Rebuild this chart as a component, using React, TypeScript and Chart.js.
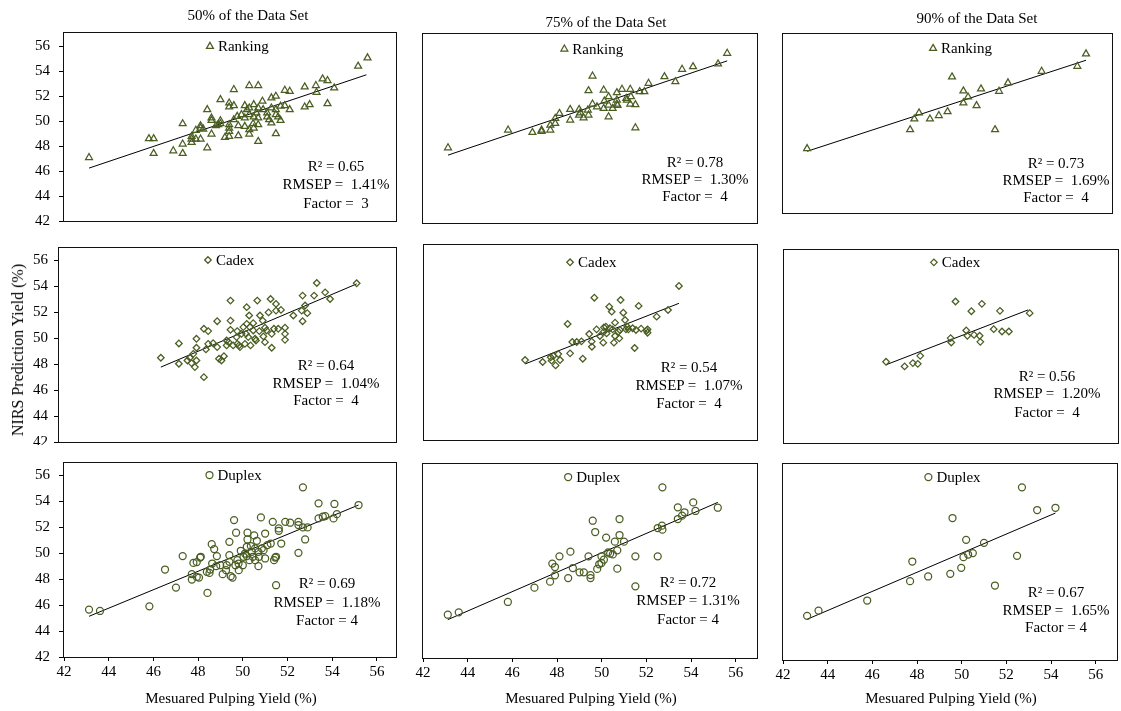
import React, { useEffect, useRef } from "react";
import { Chart, registerables } from "chart.js";
Chart.register(...registerables);

type Pt = [number, number];

const FONT = '"Liberation Serif", "Times New Roman", serif';
const OLIVE = "#4A5E22";

const X_TICKS = [42, 44, 46, 48, 50, 52, 54, 56];
const Y_TICKS = [42, 44, 46, 48, 50, 52, 54, 56];
const COLUMN_TITLES = ["50% of the Data Set", "75% of the Data Set", "90% of the Data Set"];
const METHODS = ["Ranking", "Cadex", "Duplex"];
const X_TITLE = "Mesuared Pulping Yield (%)";
const Y_TITLE = "NIRS Prediction Yield (%)";

const RANKING_50: Pt[] = [
  [43.12, 47.09], [45.8, 48.6], [46.01, 48.6], [46.01, 47.42], [46.89, 47.63], [47.31, 49.8], [47.31, 48.17], [47.31, 47.42],
  [47.71, 48.78], [47.71, 48.57], [47.71, 48.3], [47.9, 48.57], [47.9, 49.27], [48.11, 48.57], [48.11, 49.64], [48.11, 49.45],
  [48.41, 50.93], [48.41, 47.87], [48.6, 50.26], [48.6, 50.07], [48.6, 48.97], [48.8, 49.64], [49.0, 51.73], [49.0, 50.04],
  [49.0, 49.8], [49.2, 48.7], [49.39, 51.46], [49.39, 51.14], [49.39, 49.72], [49.39, 49.45], [49.39, 49.18], [49.39, 48.78],
  [49.6, 52.54], [49.6, 51.25], [49.6, 50.12], [49.8, 49.64], [49.8, 48.84], [50.09, 51.25], [50.09, 50.26], [50.09, 49.59],
  [50.29, 52.86], [50.29, 51.06], [50.29, 50.53], [50.29, 49.32], [50.29, 48.97], [50.49, 51.33], [50.49, 50.34], [50.49, 49.45],
  [50.69, 52.86], [50.69, 51.06], [50.69, 50.26], [50.69, 49.72], [50.69, 48.38], [50.88, 51.6], [51.09, 50.66], [51.09, 50.34],
  [51.28, 51.87], [51.28, 51.06], [51.28, 49.86], [51.48, 52.0], [51.48, 50.93], [51.48, 50.53], [51.48, 49.0], [51.69, 51.2],
  [51.69, 50.07], [51.88, 52.48], [51.88, 51.25], [52.1, 52.4], [52.1, 50.93], [52.77, 52.75], [52.77, 51.14], [52.99, 51.33],
  [53.27, 52.86], [53.3, 52.32], [53.57, 53.39], [53.79, 53.26], [53.79, 51.41], [54.09, 52.67], [55.16, 54.41], [55.58, 55.08],
  [49.94, 50.53], [50.19, 50.93], [50.91, 50.93], [51.18, 50.12], [51.58, 50.34], [50.46, 49.8], [48.9, 49.72], [48.23, 49.37],
  [49.75, 50.39], [50.61, 50.66],
];
const RANKING_75: Pt[] = [
  [43.12, 48.02], [45.81, 49.44], [46.9, 49.25], [47.31, 49.44], [47.31, 49.33], [47.7, 49.44], [47.7, 49.83], [47.92, 49.97],
  [47.92, 50.37], [48.11, 50.77], [48.59, 51.09], [48.59, 50.24], [48.99, 51.09], [48.99, 50.64], [49.19, 50.42], [49.38, 51.04],
  [49.41, 50.64], [49.41, 52.59], [49.59, 53.76], [49.59, 51.52], [50.09, 52.64], [50.09, 51.17], [50.12, 51.76], [50.31, 52.11],
  [50.31, 51.44], [50.31, 50.5], [50.68, 52.43], [50.68, 51.84], [50.68, 51.52], [50.71, 51.41], [50.91, 52.7], [51.1, 51.97],
  [51.28, 52.7], [51.31, 52.11], [51.28, 51.52], [51.51, 51.47], [51.51, 49.62], [51.7, 52.51], [51.91, 52.51], [52.1, 53.18],
  [52.81, 53.71], [53.3, 53.31], [53.6, 54.3], [54.09, 54.51], [55.21, 54.73], [55.62, 55.58], [49.79, 51.3], [50.49, 51.17],
  [51.13, 51.84], [49.04, 50.82],
];
const RANKING_90: Pt[] = [
  [43.08, 47.44], [47.7, 49.04], [47.89, 49.94], [48.1, 50.45], [48.59, 49.94], [48.99, 50.23], [49.38, 50.56], [49.58, 53.49],
  [50.09, 52.31], [50.09, 51.3], [50.3, 51.8], [50.68, 51.07], [50.88, 52.48], [51.51, 49.04], [51.69, 52.28], [52.09, 52.99],
  [53.6, 53.97], [55.2, 54.39], [55.59, 55.44],
];
const CADEX_50: Pt[] = [
  [46.52, 48.48], [47.32, 49.58], [47.32, 48.02], [47.7, 48.27], [47.81, 48.48], [47.88, 48.07], [47.96, 48.78], [48.03, 47.76],
  [48.1, 48.27], [48.1, 49.94], [48.1, 49.25], [48.43, 50.71], [48.43, 46.99], [48.52, 49.12], [48.62, 50.53], [48.62, 49.55],
  [48.84, 49.6], [49.02, 51.29], [49.02, 49.3], [49.1, 48.4], [49.21, 48.27], [49.32, 48.6], [49.44, 49.81], [49.44, 49.43],
  [49.53, 49.68], [49.61, 51.34], [49.61, 50.63], [49.61, 52.88], [49.73, 49.43], [49.91, 50.53], [49.99, 49.43], [50.03, 49.3],
  [50.18, 50.84], [50.3, 50.32], [50.33, 52.37], [50.33, 51.09], [50.4, 50.07], [50.44, 51.73], [50.5, 49.43], [50.62, 50.58],
  [50.7, 49.94], [50.74, 49.81], [50.8, 52.88], [50.92, 51.73], [51.04, 51.34], [51.07, 50.12], [51.14, 50.79], [51.21, 50.58],
  [51.3, 51.97], [51.39, 53.0], [51.44, 49.25], [51.44, 50.32], [51.54, 50.71], [51.63, 52.62], [51.63, 52.11], [51.73, 50.71],
  [51.85, 52.16], [52.03, 50.79], [52.03, 50.32], [52.03, 49.86], [52.4, 51.73], [52.77, 52.11], [52.81, 53.26], [52.81, 51.29],
  [52.92, 52.5], [53.02, 51.91], [53.32, 53.26], [53.44, 54.23], [53.81, 53.51], [54.03, 53.0], [55.21, 54.21],
  [49.88, 50.07], [50.1, 50.32], [50.25, 49.55], [50.47, 50.84], [50.62, 51.14], [50.89, 50.53], [51.14, 49.68], [49.91, 49.55],
];
const CADEX_75: Pt[] = [
  [46.54, 48.12], [47.33, 47.97], [47.69, 48.33], [47.73, 48.07], [47.81, 48.43], [47.91, 47.71], [48.03, 48.58], [48.11, 48.12],
  [48.45, 50.88], [48.56, 48.63], [48.66, 49.5], [48.86, 49.5], [49.07, 49.55], [49.13, 48.22], [49.42, 50.11], [49.53, 49.53],
  [49.54, 49.14], [49.65, 52.89], [49.75, 50.47], [50.05, 49.45], [50.08, 50.62], [50.17, 50.67], [50.2, 50.16], [50.32, 52.2],
  [50.43, 51.82], [50.47, 50.47], [50.53, 49.45], [50.58, 50.98], [50.73, 50.29], [50.77, 49.78], [50.83, 52.71], [50.95, 51.74],
  [51.03, 51.18], [51.07, 50.47], [51.13, 50.67], [51.18, 50.47], [51.37, 50.55], [51.46, 49.04], [51.52, 50.42], [51.64, 52.26],
  [51.75, 50.52], [52.0, 50.37], [52.04, 50.47], [52.04, 50.21], [52.45, 51.44], [52.96, 51.95], [53.45, 53.79],
  [50.08, 50.29], [50.35, 50.55], [50.58, 49.96], [50.8, 50.42], [49.9, 49.96],
];
const CADEX_90: Pt[] = [
  [46.57, 48.28], [47.4, 47.92], [47.77, 48.18], [47.99, 48.12], [48.1, 48.74], [49.46, 50.11], [49.49, 49.77], [49.68, 52.94],
  [50.16, 50.7], [50.21, 50.29], [50.39, 52.19], [50.51, 50.36], [50.76, 50.29], [50.79, 49.82], [50.86, 52.76], [51.39, 50.8],
  [51.67, 52.22], [51.76, 50.62], [52.07, 50.62], [53.0, 52.04],
];
const DUPLEX_50: Pt[] = [
  [43.12, 45.65], [43.61, 45.54], [45.82, 45.9], [46.52, 48.73], [47.01, 47.34], [47.31, 49.76], [47.72, 48.37], [47.72, 47.96],
  [47.79, 49.24], [47.94, 48.16], [47.94, 49.3], [48.04, 48.11], [48.09, 49.65], [48.12, 49.71], [48.42, 46.93], [48.51, 48.47],
  [48.54, 48.73], [48.61, 50.68], [48.63, 49.19], [48.72, 50.3], [48.81, 48.99], [48.84, 49.76], [48.99, 49.06], [49.1, 48.37],
  [49.25, 48.68], [49.4, 50.86], [49.4, 49.83], [49.4, 49.32], [49.46, 48.22], [49.54, 48.11], [49.61, 52.53], [49.67, 49.06],
  [49.7, 51.56], [49.76, 49.45], [49.82, 48.68], [49.91, 50.17], [50.0, 49.06], [50.1, 49.96], [50.18, 49.76], [50.21, 51.56],
  [50.21, 51.04], [50.3, 49.45], [50.36, 50.53], [50.4, 50.09], [50.51, 51.35], [50.55, 50.35], [50.63, 50.94], [50.7, 50.09],
  [50.7, 48.99], [50.72, 49.71], [50.81, 52.74], [50.85, 50.35], [51.0, 51.5], [51.0, 49.58], [51.1, 50.61], [51.25, 50.73],
  [51.34, 52.4], [51.4, 49.45], [51.45, 49.65], [51.49, 49.71], [51.49, 47.52], [51.61, 51.89], [51.61, 51.71], [51.72, 50.73],
  [51.9, 52.4], [52.12, 52.33], [52.49, 50.01], [52.49, 52.4], [52.49, 52.15], [52.69, 55.05], [52.69, 51.97], [52.79, 51.04],
  [52.9, 51.97], [53.39, 53.82], [53.39, 52.66], [53.58, 52.79], [53.69, 52.84], [54.06, 52.66], [54.1, 53.77], [54.21, 52.99],
  [55.18, 53.69], [49.81, 49.19], [50.03, 49.71], [50.45, 49.71], [50.93, 50.22], [49.28, 49.06], [50.18, 50.48], [50.55, 49.45],
  [48.39, 48.55],
];
const DUPLEX_75: Pt[] = [
  [43.11, 45.33], [43.6, 45.51], [45.8, 46.31], [46.99, 47.41], [47.69, 47.87], [47.79, 49.26], [47.91, 49.0], [47.91, 48.36],
  [48.11, 49.82], [48.5, 48.15], [48.6, 50.18], [48.71, 48.92], [49.01, 48.59], [49.2, 48.59], [49.41, 49.82], [49.5, 48.38],
  [49.5, 48.15], [49.6, 52.56], [49.71, 51.69], [49.8, 48.85], [49.89, 49.21], [49.99, 49.31], [49.99, 49.82], [50.1, 49.56],
  [50.2, 51.26], [50.29, 50.13], [50.38, 50.03], [50.5, 49.97], [50.59, 50.95], [50.7, 50.28], [50.7, 48.87], [50.8, 52.69],
  [50.8, 51.46], [51.0, 50.95], [51.51, 49.82], [51.51, 47.51], [52.51, 49.82], [52.51, 52.0], [52.7, 52.18], [52.72, 51.87],
  [52.72, 55.13], [53.41, 53.59], [53.41, 52.69], [53.6, 52.95], [53.71, 53.21], [54.1, 53.97], [54.2, 53.31], [55.2, 53.56],
];
const DUPLEX_90: Pt[] = [
  [43.08, 45.36], [43.59, 45.76], [45.77, 46.53], [47.69, 48.0], [47.79, 49.5], [48.5, 48.36], [49.49, 48.56], [49.59, 52.81],
  [49.98, 49.02], [50.08, 49.83], [50.2, 51.15], [50.29, 50.03], [50.5, 50.14], [51.0, 50.92], [51.49, 47.67], [52.48, 49.93],
  [52.7, 55.15], [53.38, 53.42], [54.2, 53.59],
];

const FIT_RANKING_50: Pt[] = [[43.12, 46.24], [55.53, 53.72]];
const FIT_RANKING_75: Pt[] = [[43.12, 47.43], [55.62, 54.97]];
const FIT_RANKING_90: Pt[] = [[43.08, 47.21], [55.59, 54.9]];
const FIT_CADEX_50: Pt[] = [[46.52, 47.76], [55.21, 54.16]];
const FIT_CADEX_75: Pt[] = [[46.54, 47.82], [53.45, 52.46]];
const FIT_CADEX_90: Pt[] = [[46.57, 48.05], [52.93, 52.29]];
const FIT_DUPLEX_50: Pt[] = [[43.12, 45.13], [55.18, 53.69]];
const FIT_DUPLEX_75: Pt[] = [[43.11, 44.95], [55.2, 53.97]];
const FIT_DUPLEX_90: Pt[] = [[43.08, 45.1], [54.2, 53.19]];

const STATS_RANKING_50 = ["R\u00b2 = 0.65", "RMSEP =  1.41%", "Factor =  3"];
const STATS_RANKING_75 = ["R\u00b2 = 0.78", "RMSEP =  1.30%", "Factor =  4"];
const STATS_RANKING_90 = ["R\u00b2 = 0.73", "RMSEP =  1.69%", "Factor =  4"];
const STATS_CADEX_50 = ["R\u00b2 = 0.64", "RMSEP =  1.04%", "Factor =  4"];
const STATS_CADEX_75 = ["R\u00b2 = 0.54", "RMSEP =  1.07%", "Factor =  4"];
const STATS_CADEX_90 = ["R\u00b2 = 0.56", "RMSEP =  1.20%", "Factor =  4"];
const STATS_DUPLEX_50 = ["R\u00b2 = 0.69", "RMSEP =  1.18%", "Factor = 4"];
const STATS_DUPLEX_75 = ["R\u00b2 = 0.72", "RMSEP = 1.31%", "Factor = 4"];
const STATS_DUPLEX_90 = ["R\u00b2 = 0.67", "RMSEP =  1.65%", "Factor = 4"];

type PanelCfg = {
  data: Pt[]; fit: Pt[]; stats: string[]; method: number; style: string; radius: number;
  box: [number, number, number, number]; xMax: number; yMax: number;
  showX: boolean; showY: boolean; yPad: number; legendAt: Pt; statX: number; statY: number[]; clip?: number;
};

const PANELS: PanelCfg[] = [
  { data: RANKING_50, fit: FIT_RANKING_50, stats: STATS_RANKING_50, method: 0, style: "triangle", radius: 4, box: [64, 32, 397, 221], xMax: 56.9, yMax: 57.15, showX: false, showY: true, yPad: 9, legendAt: [48.53, 56.0], statX: 336, statY: [166, 184, 203] },
  { data: RANKING_75, fit: FIT_RANKING_75, stats: STATS_RANKING_75, method: 0, style: "triangle", radius: 4, box: [423, 33, 758, 223], xMax: 57, yMax: 57.2, showX: false, showY: false, yPad: 9, legendAt: [48.33, 55.92], statX: 695, statY: [162, 179, 196] },
  { data: RANKING_90, fit: FIT_RANKING_90, stats: STATS_RANKING_90, method: 0, style: "triangle", radius: 4, box: [783, 33, 1113, 213], xMax: 56.8, yMax: 57.2, showX: false, showY: false, yPad: 9, legendAt: [48.73, 55.9], statX: 1056, statY: [163, 180, 197] },
  { data: CADEX_50, fit: FIT_CADEX_50, stats: STATS_CADEX_50, method: 1, style: "rectRot", radius: 3.3, box: [59, 247, 397, 442], xMax: 57, yMax: 57, showX: false, showY: true, yPad: 6, legendAt: [48.61, 56.0], statX: 326, statY: [365, 383, 400], clip: 3 },
  { data: CADEX_75, fit: FIT_CADEX_75, stats: STATS_CADEX_75, method: 1, style: "rectRot", radius: 3.3, box: [424, 244, 758, 440], xMax: 57, yMax: 57, showX: false, showY: false, yPad: 9, legendAt: [48.56, 55.6], statX: 689, statY: [367, 385, 403] },
  { data: CADEX_90, fit: FIT_CADEX_90, stats: STATS_CADEX_90, method: 1, style: "rectRot", radius: 3.3, box: [784, 249, 1119, 443], xMax: 57, yMax: 57, showX: false, showY: false, yPad: 9, legendAt: [48.71, 55.97], statX: 1047, statY: [376, 393, 412] },
  { data: DUPLEX_50, fit: FIT_DUPLEX_50, stats: STATS_DUPLEX_50, method: 2, style: "circle", radius: 3.5, box: [64, 462, 397, 657], xMax: 56.9, yMax: 57, showX: true, showY: true, yPad: 9, legendAt: [48.51, 56.0], statX: 327, statY: [583, 602, 620] },
  { data: DUPLEX_75, fit: FIT_DUPLEX_75, stats: STATS_DUPLEX_75, method: 2, style: "circle", radius: 3.5, box: [423, 463, 758, 658], xMax: 57, yMax: 57, showX: true, showY: false, yPad: 9, legendAt: [48.5, 55.92], statX: 688, statY: [582, 600, 619] },
  { data: DUPLEX_90, fit: FIT_DUPLEX_90, stats: STATS_DUPLEX_90, method: 2, style: "circle", radius: 3.5, box: [783, 463, 1118, 660], xMax: 57, yMax: 57, showX: true, showY: false, yPad: 9, legendAt: [48.51, 55.93], statX: 1056, statY: [592, 610, 627] },
];

const TITLE_POS: Pt[] = [[248, 15], [606, 22], [977, 18]];
const XTITLE_POS: Pt[] = [[231, 698], [591, 698], [951, 698]];

const L = 60, R = 6, T = 28, B = 40;

function PanelChart({ p }: { p: PanelCfg }) {
  const ref = useRef<HTMLCanvasElement>(null);
  const [l, t, r, b] = p.box;
  const W = L + (r - l) + R;
  const H = T + (b - t) + B;
  useEffect(() => {
    const framePlugin = {
      id: "frame",
      afterDatasetsDraw(chart: any) {
        const { ctx, chartArea } = chart;
        const { left, top, right, bottom } = chartArea;
        ctx.save();
        ctx.strokeStyle = "#111";
        ctx.lineWidth = 1;
        ctx.strokeRect(Math.round(left) - 0.5, Math.round(top) + 0.5, Math.round(right - left), Math.round(bottom - top));
        const xs = chart.scales.x, ys = chart.scales.y;
        const px = xs.getPixelForValue(p.legendAt[0]);
        const py = ys.getPixelForValue(p.legendAt[1]);
        ctx.fillStyle = "#000";
        ctx.font = `15px ${FONT}`;
        ctx.textAlign = "left";
        ctx.textBaseline = "middle";
        ctx.fillText(METHODS[p.method], px + 8, py + 1);
        ctx.restore();
      },
    };
    const markerStyle = {
      pointStyle: p.style,
      pointRadius: p.radius,
      pointBorderColor: OLIVE,
      pointBackgroundColor: "rgba(255,255,255,0)",
      pointBorderWidth: 1.25,
      showLine: false,
    };
    const chart = new Chart(ref.current as HTMLCanvasElement, {
      type: "scatter",
      data: {
        datasets: [
          { ...markerStyle, data: p.data.map(([x, y]) => ({ x, y })) },
          { ...markerStyle, data: [{ x: p.legendAt[0], y: p.legendAt[1] }] },
          { data: p.fit.map(([x, y]) => ({ x, y })), showLine: true, borderColor: "#000", borderWidth: 1, pointRadius: 0 },
        ] as any,
      },
      options: {
        responsive: false,
        animation: false,
        devicePixelRatio: 1,
        layout: { padding: { left: 0, right: R, top: T, bottom: 0 } },
        plugins: { legend: { display: false }, tooltip: { enabled: false } },
        scales: {
          x: {
            type: "linear",
            min: 42,
            max: p.xMax,
            afterBuildTicks: (s: any) => { s.ticks = X_TICKS.map((v) => ({ value: v })); },
            afterFit: (s: any) => { s.height = B; },
            grid: { display: p.showX, drawOnChartArea: false, drawTicks: true, tickLength: 4, color: "#000" },
            border: { display: false },
            ticks: { display: p.showX, font: { family: FONT, size: 15 }, color: "#000", padding: 2, maxRotation: 0, autoSkip: false },
          },
          y: {
            type: "linear",
            min: 42,
            max: p.yMax,
            afterBuildTicks: (s: any) => { s.ticks = Y_TICKS.map((v) => ({ value: v })); },
            afterFit: (s: any) => { s.width = L; },
            grid: { display: p.showY, drawOnChartArea: false, drawTicks: true, tickLength: 5, color: "#000" },
            border: { display: false },
            ticks: { display: p.showY, font: { family: FONT, size: 15 }, color: "#000", padding: p.yPad, autoSkip: false },
          },
        },
      } as any,
      plugins: [framePlugin],
    });
    return () => chart.destroy();
  }, []);
  const clipStyle = p.clip !== undefined ? { clipPath: `inset(0px 0px ${B - p.clip}px 0px)` } : {};
  return (
    <canvas
      ref={ref}
      width={W}
      height={H}
      style={{ position: "absolute", left: l - L, top: t - T, width: W, height: H, ...clipStyle }}
    />
  );
}

const textBase: React.CSSProperties = {
  position: "absolute",
  fontFamily: FONT,
  fontSize: 15,
  color: "#000",
  whiteSpace: "pre",
  transform: "translate(-50%, -50%)",
  lineHeight: 1,
};

export default function App() {
  return (
    <div style={{ position: "absolute", left: 0, top: 0, width: 1121, height: 711, background: "#fff", overflow: "hidden" }}>
      {PANELS.map((p, i) => (
        <PanelChart key={i} p={p} />
      ))}
      {PANELS.map((p, i) =>
        p.stats.map((s, j) => (
          <div key={`s${i}-${j}`} style={{ ...textBase, left: p.statX, top: p.statY[j] }}>{s}</div>
        ))
      )}
      {COLUMN_TITLES.map((s, i) => (
        <div key={`t${i}`} style={{ ...textBase, left: TITLE_POS[i][0], top: TITLE_POS[i][1] }}>{s}</div>
      ))}
      {XTITLE_POS.map((pos, i) => (
        <div key={`x${i}`} style={{ ...textBase, left: pos[0], top: pos[1] }}>{X_TITLE}</div>
      ))}
      <div style={{ ...textBase, fontSize: 16, left: 18, top: 350, transform: "translate(-50%, -50%) rotate(-90deg)" }}>{Y_TITLE}</div>
    </div>
  );
}
